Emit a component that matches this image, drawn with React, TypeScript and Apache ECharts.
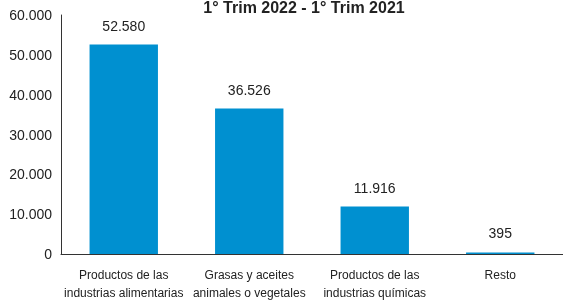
import React, { useEffect, useRef } from "react";
import * as echarts from "echarts";

const categories = [
  "Productos de las\nindustrias alimentarias",
  "Grasas y aceites\nanimales o vegetales",
  "Productos de las\nindustrias químicas",
  "Resto",
];
const values = [52580, 36526, 11916, 395];
const titleText = "1° Trim 2022 - 1° Trim 2021";

const fmt = (v: number) =>
  Math.round(v).toString().replace(/\B(?=(\d{3})+(?!\d))/g, ".");

export default function App() {
  const ref = useRef<HTMLDivElement>(null);
  useEffect(() => {
    const chart = echarts.init(ref.current!, null, { renderer: "svg" });
    chart.setOption({
      animation: false,
      title: {
        text: titleText,
        left: 299,
        textAlign: "center",
        top: -6,
        textStyle: {
          fontFamily: "Liberation Sans, Arial, sans-serif",
          fontSize: 16,
          fontWeight: "bold",
          color: "#222",
        },
      },
      grid: { left: 61, right: -5, top: 15, bottom: 48, containLabel: false },
      xAxis: {
        type: "category",
        data: categories,
        axisLine: { lineStyle: { color: "#333", width: 1 } },
        axisTick: { show: false },
        axisLabel: {
          interval: 0,
          margin: 12,
          fontFamily: "Liberation Sans, Arial, sans-serif",
          fontSize: 12,
          color: "#222",
          lineHeight: 18,
        },
      },
      yAxis: {
        type: "value",
        min: 0,
        max: 60000,
        interval: 10000,
        axisLine: { show: true, lineStyle: { color: "#333", width: 1 } },
        axisTick: { show: false },
        splitLine: { show: false },
        axisLabel: {
          formatter: (v: number) => fmt(v),
          fontFamily: "Liberation Sans, Arial, sans-serif",
          fontSize: 14,
          color: "#222",
          margin: 9,
        },
      },
      series: [
        {
          type: "bar",
          data: values,
          barWidth: "54.5%",
          itemStyle: { color: "#0090D0" },
          label: {
            show: true,
            position: "top",
            distance: 12,
            formatter: (p: any) => fmt(p.value),
            fontFamily: "Liberation Sans, Arial, sans-serif",
            fontSize: 14,
            color: "#222",
          },
        },
      ],
    });
    return () => chart.dispose();
  }, []);
  return (
    <div
      ref={ref}
      style={{ position: "fixed", left: 0, top: 0, width: 563, height: 302 }}
    />
  );
}
